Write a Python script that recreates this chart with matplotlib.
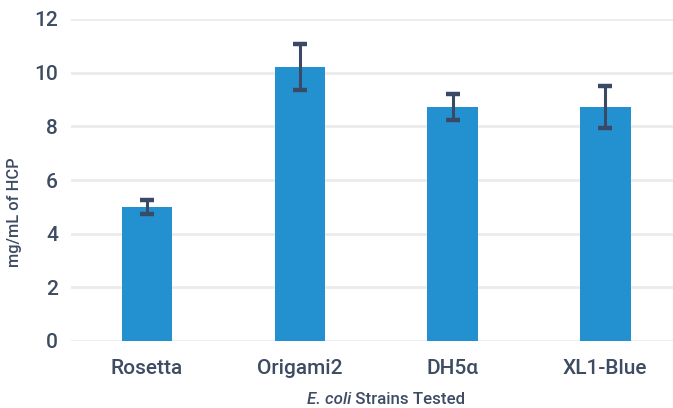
import matplotlib
matplotlib.use("Agg")
import matplotlib.pyplot as plt

categories = ["Rosetta", "Origami2", "DH5α", "XL1-Blue"]
values = [5.0, 10.22, 8.72, 8.72]
errors = [0.25, 0.85, 0.48, 0.78]
yticks = [0, 2, 4, 6, 8, 10, 12]

bar_color = "#2391D0"
err_color = "#3A4A66"
text_color = "#3D4B63"
grid_color = "#EBEBEB"

plt.rcParams['font.family'] = ['Roboto', 'DejaVu Sans']

fig = plt.figure(figsize=(6.73, 4.08), dpi=100)
W, H = 673, 408
ax = fig.add_axes([70.7 / W, (H - 341) / H, 611 / W, (341 - 19) / H])

x = list(range(len(categories)))
ax.bar(x, values, width=0.33, color=bar_color, zorder=2)
ax.errorbar(x, values, yerr=errors, fmt='none', ecolor=err_color,
            elinewidth=2.2, capsize=5, capthick=3.2, zorder=3)

ax.set_ylim(0, 12)
ax.set_xlim(-0.5, len(categories) - 0.5)
ax.set_yticks(yticks)
ax.set_yticklabels([str(t) for t in yticks])
ax.set_xticks(x)
ax.set_xticklabels(categories)
ax.yaxis.grid(True, color=grid_color, linewidth=2, zorder=0)
ax.set_axisbelow(True)
for s in ax.spines.values():
    s.set_visible(False)
ax.tick_params(axis='both', length=0, colors=text_color, labelsize=15)
ax.tick_params(axis='y', pad=9)
ax.tick_params(axis='x', pad=13)
for lab in ax.get_xticklabels() + ax.get_yticklabels():
    lab.set_fontweight('medium')

ax.set_ylabel("mg/mL of HCP", color=text_color, fontsize=11.8,
              fontweight='medium')
ax.yaxis.set_label_coords((22 - 70.7) / 611, (341 - 212) / (341 - 19))

# x-axis title: italic "E. coli" followed by upright " Strains Tested"
fig.canvas.draw()
renderer = fig.canvas.get_renderer()
ypos = (H - 399) / H
t1 = fig.text(0, ypos, "E. coli", style='italic', color=text_color,
              fontsize=12.2, fontweight='medium', va='center', ha='left')
t2 = fig.text(0, ypos, " Strains Tested", color=text_color,
              fontsize=12.2, fontweight='medium', va='center', ha='left')
w1 = t1.get_window_extent(renderer).width
w2 = t2.get_window_extent(renderer).width
cx = 386
start = cx - (w1 + w2) / 2
t1.set_x(start / W)
t2.set_x((start + w1) / W)

fig.savefig("out.png", dpi=100)
